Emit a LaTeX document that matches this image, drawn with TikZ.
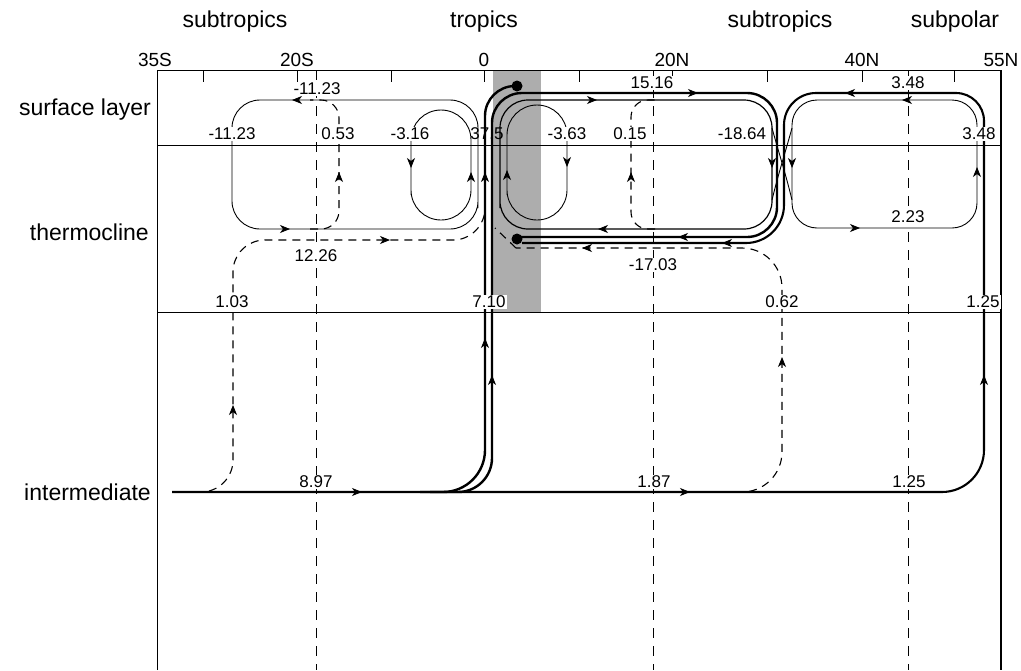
\documentclass[tikz,border=0pt]{standalone}
\usepackage{fontspec}
\setmainfont{Liberation Sans}
\usetikzlibrary{arrows.meta}
\newcommand\ArrR[2]{\draw[tip] ({#1-1},{#2}) -- ({#1+5},{#2});}
\newcommand\ArrL[2]{\draw[tip] ({#1+1},{#2}) -- ({#1-5},{#2});}
\newcommand\ArrU[2]{\draw[tip] ({#1},{#2+1}) -- ({#1},{#2-5});}
\newcommand\ArrD[2]{\draw[tip] ({#1},{#2-1}) -- ({#1},{#2+5});}
\tikzset{
  thinl/.style={line width=0.9pt},
  medl/.style={line width=1.2pt},
  thickl/.style={line width=2.4pt},
  interl/.style={line width=2.1pt},
  dashl/.style={line width=1.1pt, dash pattern=on 8pt off 6pt},
  gridl/.style={line width=0.9pt, dash pattern=on 10pt off 8pt},
  num/.style={font=\fontsize{17}{19}\selectfont, fill=white, inner sep=1pt},
  numclear/.style={font=\fontsize{17}{19}\selectfont, inner sep=1pt},
  hdr/.style={font=\fontsize{23}{27}\selectfont, inner sep=0pt},
  ax/.style={font=\fontsize{19}{22}\selectfont, inner sep=0pt},
  tip/.style={-{Stealth[length=10pt,width=8pt,inset=3pt]}, line width=0.8pt, solid},
}
\begin{document}
\begin{tikzpicture}[x=1pt,y=-1pt]
\useasboundingbox (0,0) rectangle (1021,670);

% shaded equatorial band
\fill[black!32] (493,70) rectangle (541,312);

% frame
\draw[thinl] (157,670) -- (157,70) -- (1001,70);
\draw[line width=1.8pt] (1001,70) -- (1001,670);
\draw[thinl] (157,145) -- (1001,145);
\draw[thinl] (157,312) -- (1001,312);
\foreach \t in {203,297,391,484,579,672,767,862,954}
  \draw[thinl] (\t,70) -- (\t,82);

% dashed latitude lines
\foreach \t in {316,653,908}
  \draw[gridl] (\t,70) -- (\t,670);

% southern subtropical gyre
\draw[thinl, rounded corners=28pt] (478,180) -- (478,100) -- (232,100) -- (232,229) -- (478,229) -- cycle;
\draw[thinl, rounded corners=30pt] (411,165) -- (411,110) -- (471,110) -- (471,220) -- (411,220) -- cycle;
\draw[dashl, rounded corners=18pt] (310,229) -- (339,229) -- (339,100) -- (310,100);
\draw[dashl, rounded corners=32pt] (195,492) -- (233,492) -- (233,240) -- (485,240) -- (485,200);

% northern thin loops
\draw[medl, rounded corners=28pt] (500,180) -- (500,100) -- (772,100) -- (772,229) -- (500,229) -- cycle;
\draw[thinl, rounded corners=30pt] (507,165) -- (507,105) -- (567,105) -- (567,220) -- (507,220) -- cycle;
\draw[dashl, rounded corners=17pt] (655,229) -- (631,229) -- (631,100) -- (655,100);
\draw[dashl, rounded corners=40pt] (735,492) -- (782,492) -- (782,248) -- (516,248);
\draw[dashl] (516,248) -- (495,228);

% subpolar thin loop
\draw[thinl, rounded corners=25pt] (792,160) -- (792,100) -- (977,100) -- (977,228) -- (792,228) -- cycle;
% crossing thin lines
\draw[thinl] (772,128) .. controls (778,150) and (786,175) .. (792,200);
\draw[thinl] (792,128) .. controls (786,150) and (778,175) .. (772,200);

% thick tropical pathways
\draw[thickl] (420,492) [rounded corners=42pt] -- (485,492) [rounded corners=30pt] -- (485,86) -- (517,86);
\draw[thickl] (430,492) [rounded corners=34pt] -- (492,492) [rounded corners=30pt] -- (492,93) -- (777,93) -- (777,237) -- (517,237);
\draw[interl] (172,492) [rounded corners=42pt] -- (984,492) [rounded corners=28pt] -- (984,93) [rounded corners=32pt] -- (784,93) [rounded corners=38pt] -- (784,243) -- (522,243);

% dots
\fill (517,86) circle (5.5pt);
\fill (517,239) circle (5.5pt);

% arrowheads
\ArrL{297}{100} \ArrR{285}{229}
\ArrD{411}{163} \ArrU{471}{177}
\ArrU{339}{177}
\ArrU{233}{410} \ArrR{385}{240}
\ArrU{485}{343} \ArrU{485}{177}
\ArrU{492}{380} \ArrR{693}{93} \ArrL{683}{237}
\ArrR{357}{492} \ArrR{685}{492} \ArrU{984}{380} \ArrL{850}{93} \ArrL{727}{243}
\ArrD{567}{162} \ArrU{507}{175}
\ArrU{631}{177}
\ArrR{592}{100} \ArrD{772}{163} \ArrL{603}{229}
\ArrU{782}{362} \ArrL{587}{248}
\ArrL{907}{100} \ArrU{977}{172} \ArrR{855}{228} \ArrD{792}{163}

% headers
\node[hdr] (h1) at (235,22) {subtropics};
\node[hdr] (h2) at (484,22) {tropics};
\node[hdr] (h3) at (780,22) {subtropics};
\node[hdr] (h4) at (955,22) {subpolar};
\node[ax] (a1) at (155,60) {35S};
\node[ax] (a2) at (297,60) {20S};
\node[ax] (a3) at (484,60) {0};
\node[ax] (a4) at (672,60) {20N};
\node[ax] (a5) at (862,60) {40N};
\node[ax] (a6) at (1001,60) {55N};
\node[hdr, anchor=east] (r1) at (151,110) {surface layer};
\node[hdr, anchor=east] (r2) at (149,232) {thermocline};
\node[hdr, anchor=east] (r3) at (151,492) {intermediate};

% values
\node[num] (v1) at (317,89) {-11.23};
\node[num] (v2) at (232,134) {-11.23};
\node[num] (v3) at (338,134) {0.53};
\node[num] (v4) at (410,134) {-3.16};
\node[numclear] (v5) at (487,134) {37.5};
\node[num] (v6) at (567,134) {-3.63};
\node[num] (v7) at (630,134) {0.15};
\node[num] (v8) at (742,134) {-18.64};
\node[num] (v9) at (652,83) {15.16};
\node[num] (v10) at (908,83) {3.48};
\node[num] (v11) at (979,134) {3.48};
\node[num] (v12) at (316,256) {12.26};
\node[num] (v13) at (232,302) {1.03};
\node[num] (v14) at (489,302) {7.10};
\node[num] (v15) at (653,265) {-17.03};
\node[num] (v16) at (782,302) {0.62};
\node[num] (v17) at (908,217) {2.23};
\node[num] (v18) at (983,302) {1.25};
\node[num] (v19) at (316,482) {8.97};
\node[num] (v20) at (654,482) {1.87};
\node[num] (v21) at (909,482) {1.25};
\end{tikzpicture}
\end{document}
